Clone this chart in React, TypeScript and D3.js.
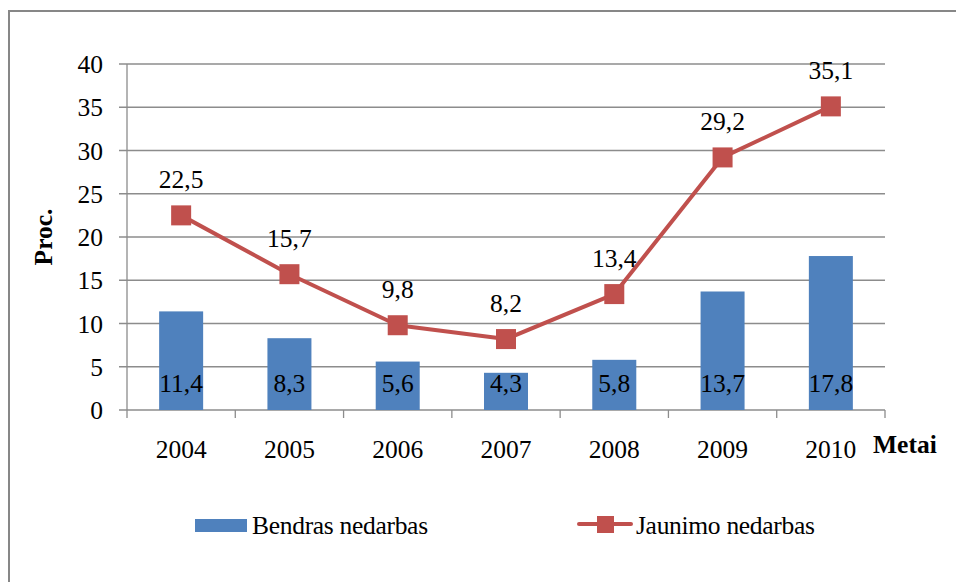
import * as d3 from 'd3';

const years = ['2004', '2005', '2006', '2007', '2008', '2009', '2010'];
const bendras = [11.4, 8.3, 5.6, 4.3, 5.8, 13.7, 17.8];
const jaunimo = [22.5, 15.7, 9.8, 8.2, 13.4, 29.2, 35.1];
const yTicks = [0, 5, 10, 15, 20, 25, 30, 35, 40];

const W = 956, H = 582;
const font = 'Liberation Serif';
const fs = 25.5;
const blue = '#4F81BD';
const red = '#C0504D';
const grid = '#8c8c8c';

const fmt = (v: number) => v.toFixed(1).replace('.', ',');

const x = d3.scaleBand<string>().domain(years).range([127, 885]);
const y = d3.scaleLinear().domain([0, 40]).range([410, 64]);
const cx = (d: string) => (x(d) as number) + x.bandwidth() / 2;

const App = () => {
  const bw = 44;
  const pts: [number, number][] = years.map((d, i) => [cx(d), y(jaunimo[i])]);
  const edges = years.map(d => x(d) as number).concat([885]);

  return (
    <svg width={W} height={H} fontFamily={font} fontSize={fs}
      style={{ position: 'absolute', left: 0, top: 0, background: 'white' }}>
      {/* outer frame, runs off right/bottom edge */}
      <rect x={9} y={11} width={960} height={600} fill="white" stroke="#878787" strokeWidth={2} />

      {yTicks.map(t => (
        <g key={t}>
          <line x1={119} x2={885} y1={y(t)} y2={y(t)} stroke={grid} strokeWidth={1.3} />
          <text x={103} y={y(t) + 9} textAnchor="end">{t}</text>
        </g>
      ))}
      <line x1={127} x2={127} y1={64} y2={410} stroke={grid} strokeWidth={1.3} />

      {edges.map(e => (
        <line key={e} x1={e} x2={e} y1={410} y2={418} stroke={grid} strokeWidth={1.3} />
      ))}
      {years.map(d => (
        <text key={d} x={cx(d)} y={458} textAnchor="middle">{d}</text>
      ))}

      {years.map((d, i) => (
        <rect key={d} x={cx(d) - bw / 2} y={y(bendras[i])} width={bw} height={y(0) - y(bendras[i])} fill={blue} />
      ))}
      {years.map((d, i) => (
        <text key={d} x={cx(d)} y={392} textAnchor="middle">{fmt(bendras[i])}</text>
      ))}

      <path d={d3.line()(pts) as string} fill="none" stroke={red} strokeWidth={4} strokeLinejoin="round" />
      {pts.map(([px, py], i) => (
        <g key={i}>
          <rect x={px - 10} y={py - 10} width={20} height={20} fill={red} />
          <text x={px} y={py - 27} textAnchor="middle">{fmt(jaunimo[i])}</text>
        </g>
      ))}

      <text transform="translate(52,237) rotate(-90)" textAnchor="middle" fontWeight="bold">Proc.</text>
      <text x={873} y={453} fontWeight="bold">Metai</text>

      {/* legend */}
      <rect x={195} y={519} width={52} height={13} fill={blue} />
      <text x={252} y={534} letterSpacing={-0.3}>Bendras nedarbas</text>
      <line x1={579} x2={631} y1={524} y2={524} stroke={red} strokeWidth={4} strokeLinecap="round" />
      <rect x={597} y={516} width={17} height={17} fill={red} />
      <text x={636} y={534} letterSpacing={-0.3}>Jaunimo nedarbas</text>
    </svg>
  );
};

export default App;
